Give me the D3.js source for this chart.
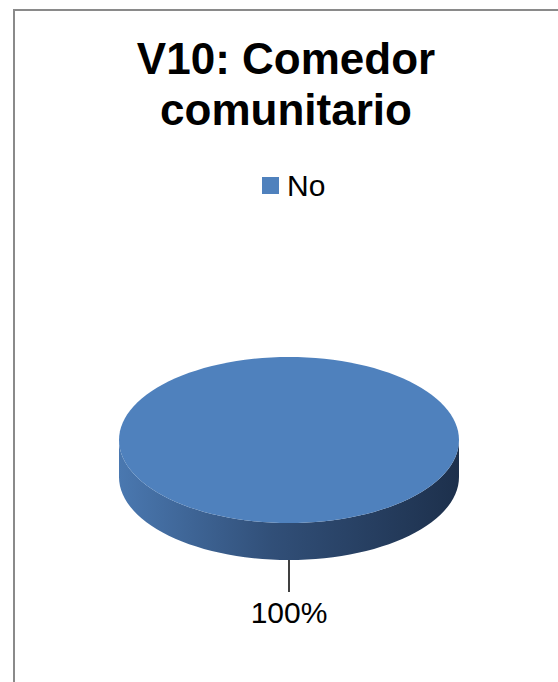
<!DOCTYPE html>
<html>
<head>
<meta charset="utf-8">
<script src="https://cdn.jsdelivr.net/npm/d3@7"></script>
<style>
  body { margin: 0; background: #fff; }
  svg { display: block; font-family: "Liberation Sans", Arial, sans-serif; }
</style>
</head>
<body>
<div id="chart"></div>
<script>
// chart data
const titleLines = ["V10: Comedor", "comunitario"];
const categories = ["No"];
const values = [100];
const colors = ["#4f81bd"];

const W = 558, H = 682;
const svg = d3.select("#chart").append("svg")
  .attr("width", W)
  .attr("height", H);

// outer border (chart area frame)
svg.append("rect")
  .attr("x", 14).attr("y", 10)
  .attr("width", W + 20).attr("height", H + 20)
  .attr("fill", "#fff")
  .attr("stroke", "#8a8a8a")
  .attr("stroke-width", 2);

// title
svg.append("text")
  .attr("x", 286)
  .attr("y", 74)
  .attr("text-anchor", "middle")
  .style("font-size", "44px")
  .style("font-weight", "bold")
  .selectAll("tspan")
  .data(titleLines)
  .enter()
  .append("tspan")
  .attr("x", 286)
  .attr("dy", (d, i) => i === 0 ? 0 : 51)
  .text(d => d);

// legend
const legend = svg.append("g").attr("transform", "translate(262,177)");
legend.selectAll("rect")
  .data(categories)
  .enter()
  .append("rect")
  .attr("width", 17).attr("height", 17)
  .attr("fill", (d, i) => colors[i]);
legend.selectAll("text")
  .data(categories)
  .enter()
  .append("text")
  .attr("x", 25)
  .attr("y", 19)
  .style("font-size", "30px")
  .text(d => d);

// 3d pie geometry
const cx = 289, cy = 440, rx = 170, ry = 83, depth = 37;

const pie = d3.pie().sort(null)(values);
const total = d3.sum(values);

// gradient for the side wall
const defs = svg.append("defs");
const grad = defs.append("linearGradient")
  .attr("id", "side")
  .attr("x1", "0%").attr("x2", "100%")
  .attr("y1", "0%").attr("y2", "0%");
grad.append("stop").attr("offset", "0%").attr("stop-color", "#4a78b0");
grad.append("stop").attr("offset", "45%").attr("stop-color", "#314f78");
grad.append("stop").attr("offset", "100%").attr("stop-color", "#1d304c");

// angle -> point on ellipse (0 = top, clockwise like d3.pie)
const pt = (a, dy) => [cx + rx * Math.sin(a), cy - ry * Math.cos(a) + (dy || 0)];

pie.forEach((p, i) => {
  // front side wall: visible part of the slice between PI/2 and 3PI/2
  const a0 = Math.max(p.startAngle, Math.PI / 2);
  const a1 = Math.min(p.endAngle, Math.PI * 1.5);
  if (a1 > a0) {
    const steps = d3.range(0, 61).map(k => a0 + (a1 - a0) * k / 60);
    const top = steps.map(a => pt(a));
    const bottom = steps.map(a => pt(a, depth)).reverse();
    svg.append("path")
      .attr("d", d3.line()(top.concat(bottom)) + "Z")
      .attr("fill", "url(#side)");
  }

  // top face
  const steps = d3.range(0, 121).map(k => p.startAngle + (p.endAngle - p.startAngle) * k / 120);
  const pts = steps.map(a => pt(a));
  if (p.endAngle - p.startAngle < Math.PI * 2 - 1e-6) pts.push([cx, cy]);
  svg.append("path")
    .attr("d", d3.line()(pts) + "Z")
    .attr("fill", colors[i]);

  // data label with leader line
  const mid = (p.startAngle + p.endAngle) / 2;
  const edge = pt(mid, depth);
  svg.append("line")
    .attr("x1", edge[0]).attr("y1", edge[1])
    .attr("x2", edge[0]).attr("y2", edge[1] + 32)
    .attr("stroke", "#000")
    .attr("stroke-width", 1.5);
  svg.append("text")
    .attr("x", edge[0])
    .attr("y", edge[1] + 63)
    .attr("text-anchor", "middle")
    .style("font-size", "30px")
    .text(Math.round(p.value / total * 100) + "%");
});
</script>
</body>
</html>
